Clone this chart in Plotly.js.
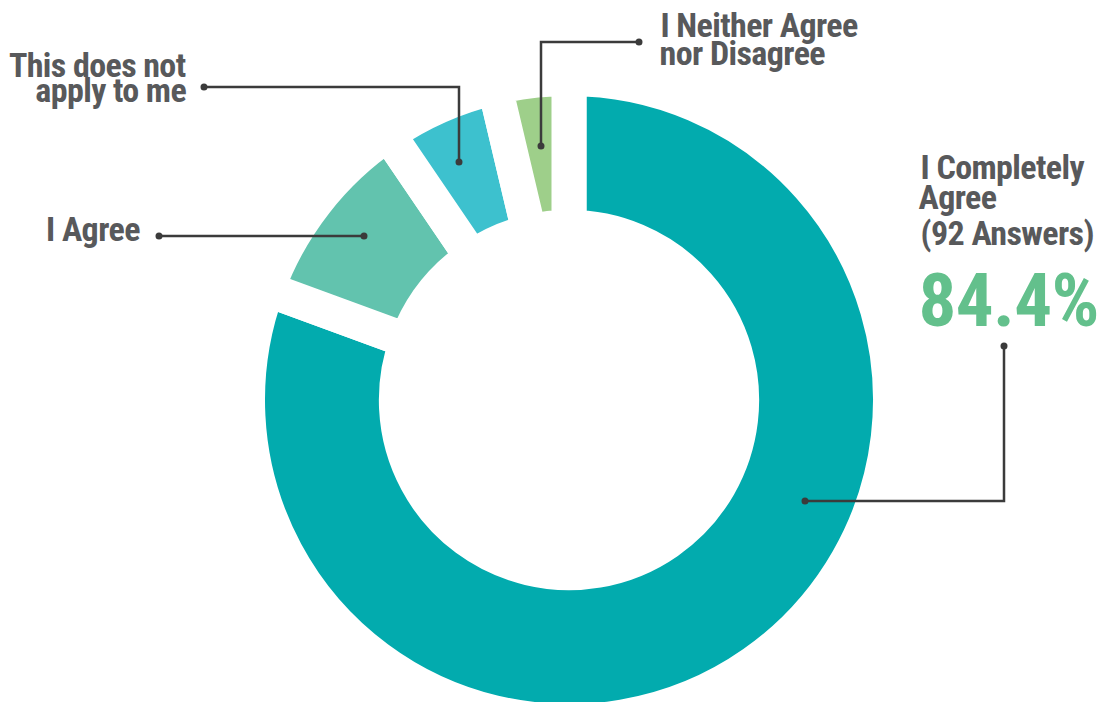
<!DOCTYPE html>
<html>
<head>
<meta charset="utf-8">
<script src="https://cdn.plot.ly/plotly-3.0.1.min.js"></script>
<style>
html,body{margin:0;padding:0;overflow:hidden;background:#fff;}
#chart{width:1102px;height:760px;}
#chart text.annotation-text{letter-spacing:-0.6px;}
</style>
</head>
<body>
<div id="chart"></div>
<script>
// ---- data ----
const categories = ["I Completely Agree", "I Agree", "This does not apply to me", "I Neither Agree nor Disagree"];
const shares = [80.6, 9.9, 5.8, 3.7];   // slice shares as drawn (percent)
const colors = ["#02ABAE", "#62C3AE", "#3DC1CE", "#9ECF8A"];
const labelLines = {
  complete: ["I Completely", "Agree", "(92 Answers)"],
  completePct: "84.4%",
  agree: ["I Agree"],
  na: ["This does not", "apply to me"],
  neither: ["I Neither Agree", "nor Disagree"]
};

// ---- layout helpers (pixel -> paper) ----
const W = 1102, H = 760;
const px = x => x / W;
const py = y => 1 - y / H;
const cx = 569, cy = 400, R = 321.5;

const FONT = "'Roboto Condensed', 'Liberation Sans Narrow', 'DejaVu Sans Condensed', Roboto, sans-serif";
const GRAY = "#58595B";
const LINE = "#3B3B3B";

function ann(text, x, baseline, anchor, size, color) {
  size = size || 34;
  return {
    text: text, xref: "paper", yref: "paper",
    x: px(x), y: py(baseline - size * 0.37),
    xanchor: anchor, yanchor: "middle", showarrow: false,
    font: {family: FONT, size: size, color: color || GRAY, weight: 700}
  };
}
const annotations = [
  ann(labelLines.na[0], 191, 78, "right"),
  ann(labelLines.na[1], 191, 103, "right"),
  ann(labelLines.agree[0], 144, 242, "right"),
  ann(labelLines.neither[0], 654, 38, "left"),
  ann(labelLines.neither[1], 654, 66, "left"),
  ann(labelLines.complete[0], 915, 180, "left"),
  ann(labelLines.complete[1], 915, 210, "left"),
  ann(labelLines.complete[2], 915, 246, "left"),
  ann(labelLines.completePct, 915, 328, "left", 75, "#63C08C")
];

function path(points) {
  return {
    type: "path", xref: "paper", yref: "paper",
    path: points.map((p, i) => (i ? "L" : "M") + px(p[0]) + "," + py(p[1])).join(" "),
    line: {color: LINE, width: 2.5}
  };
}
function dot(x, y) {
  return {
    type: "circle", xref: "paper", yref: "paper",
    xsizemode: "pixel", ysizemode: "pixel",
    xanchor: px(x), yanchor: py(y),
    x0: -3.5, x1: 3.5, y0: -3.5, y1: 3.5,
    fillcolor: LINE, line: {width: 0}
  };
}
const leaders = [
  [[159, 236], [364, 236]],
  [[204, 87], [459, 87], [459, 162]],
  [[639, 42], [541, 42], [541, 146]],
  [[1004, 346], [1004, 501], [805, 501]]
];
const shapes = [];
leaders.forEach(l => {
  shapes.push(path(l));
  shapes.push(dot(l[0][0], l[0][1]));
  shapes.push(dot(l[l.length - 1][0], l[l.length - 1][1]));
});

const trace = {
  type: "pie",
  labels: categories,
  values: shares,
  sort: false,
  direction: "clockwise",
  rotation: 0,
  hole: 0.537,
  textinfo: "none",
  hoverinfo: "skip",
  marker: {colors: colors, line: {color: "#ffffff", width: 35}},
  domain: {x: [px(cx - R), px(cx + R)], y: [py(cy + R), py(cy - R)]}
};

Plotly.newPlot("chart", [trace], {
  width: W, height: H,
  margin: {l: 0, r: 0, t: 0, b: 0},
  paper_bgcolor: "#fff",
  showlegend: false,
  annotations: annotations,
  shapes: shapes
}, {staticPlot: true});
</script>
</body>
</html>
